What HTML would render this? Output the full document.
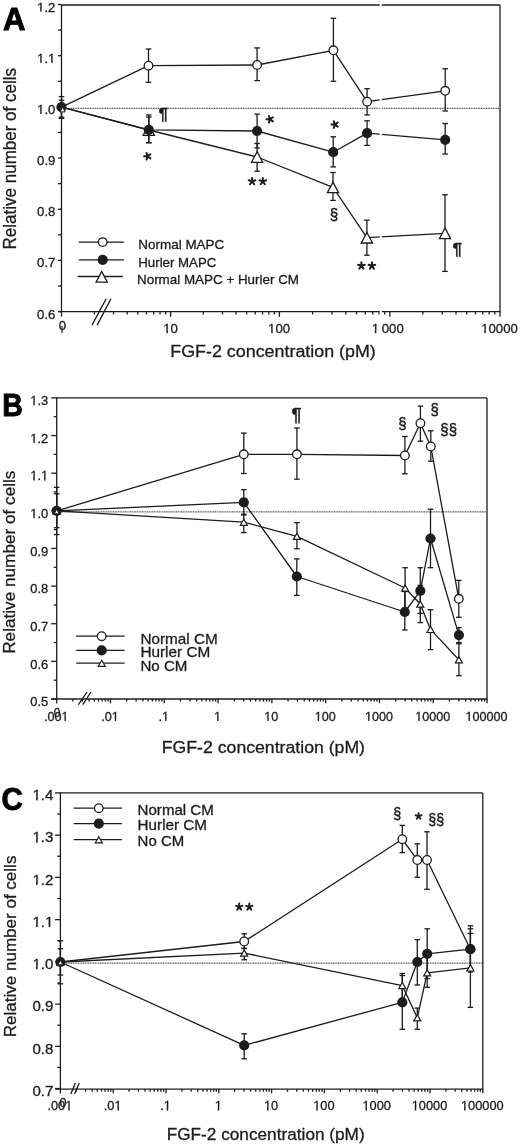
<!DOCTYPE html>
<html><head><meta charset="utf-8"><style>
html,body{margin:0;padding:0;background:#fff;}
svg{display:block;will-change:transform;font-family:"Liberation Sans",sans-serif;fill:#1c1c1c;}
text{fill:#1c1c1c;stroke:#1c1c1c;stroke-width:0.3px;}
</style></head><body>
<svg width="520" height="1146" viewBox="0 0 520 1146">
<line x1="61.50" y1="5.00" x2="500.00" y2="5.00" stroke="#1c1c1c" stroke-width="1.3" />
<line x1="500.00" y1="5.00" x2="500.00" y2="311.60" stroke="#1c1c1c" stroke-width="1.3" />
<line x1="61.50" y1="4.40" x2="61.50" y2="316.60" stroke="#1c1c1c" stroke-width="1.3" />
<line x1="58.00" y1="311.60" x2="500.60" y2="311.60" stroke="#1c1c1c" stroke-width="1.3" />
<line x1="58.00" y1="4.50" x2="61.50" y2="4.50" stroke="#1c1c1c" stroke-width="1.3" />
<line x1="58.00" y1="30.09" x2="61.50" y2="30.09" stroke="#1c1c1c" stroke-width="1.3" />
<line x1="58.00" y1="55.68" x2="61.50" y2="55.68" stroke="#1c1c1c" stroke-width="1.3" />
<line x1="58.00" y1="81.27" x2="61.50" y2="81.27" stroke="#1c1c1c" stroke-width="1.3" />
<line x1="58.00" y1="106.86" x2="61.50" y2="106.86" stroke="#1c1c1c" stroke-width="1.3" />
<line x1="58.00" y1="132.45" x2="61.50" y2="132.45" stroke="#1c1c1c" stroke-width="1.3" />
<line x1="58.00" y1="158.04" x2="61.50" y2="158.04" stroke="#1c1c1c" stroke-width="1.3" />
<line x1="58.00" y1="183.63" x2="61.50" y2="183.63" stroke="#1c1c1c" stroke-width="1.3" />
<line x1="58.00" y1="209.22" x2="61.50" y2="209.22" stroke="#1c1c1c" stroke-width="1.3" />
<line x1="58.00" y1="234.81" x2="61.50" y2="234.81" stroke="#1c1c1c" stroke-width="1.3" />
<line x1="58.00" y1="260.40" x2="61.50" y2="260.40" stroke="#1c1c1c" stroke-width="1.3" />
<line x1="58.00" y1="285.99" x2="61.50" y2="285.99" stroke="#1c1c1c" stroke-width="1.3" />
<line x1="58.00" y1="311.58" x2="61.50" y2="311.58" stroke="#1c1c1c" stroke-width="1.3" />
<text x="55.40" y="11.50" font-size="13.2" text-anchor="end" font-weight="normal" >1.2</text>
<rect x="37.26" y="9.21" width="7.29" height="3.99" fill="#fff"/>
<rect x="40.22" y="8.91" width="1.47" height="2.74" fill="#1c1c1c"/>
<text x="55.40" y="62.68" font-size="13.2" text-anchor="end" font-weight="normal" >1.1</text>
<rect x="37.26" y="60.39" width="7.29" height="3.99" fill="#fff"/>
<rect x="40.22" y="60.09" width="1.47" height="2.74" fill="#1c1c1c"/>
<rect x="48.26" y="60.39" width="7.29" height="3.99" fill="#fff"/>
<rect x="51.23" y="60.09" width="1.47" height="2.74" fill="#1c1c1c"/>
<text x="55.40" y="113.86" font-size="13.2" text-anchor="end" font-weight="normal" >1.0</text>
<rect x="37.26" y="111.57" width="7.29" height="3.99" fill="#fff"/>
<rect x="40.22" y="111.27" width="1.47" height="2.74" fill="#1c1c1c"/>
<text x="55.40" y="165.04" font-size="13.2" text-anchor="end" font-weight="normal" >0.9</text>
<text x="55.40" y="216.22" font-size="13.2" text-anchor="end" font-weight="normal" >0.8</text>
<text x="55.40" y="267.40" font-size="13.2" text-anchor="end" font-weight="normal" >0.7</text>
<text x="55.40" y="318.58" font-size="13.2" text-anchor="end" font-weight="normal" >0.6</text>
<line x1="94.34" y1="311.60" x2="94.34" y2="314.40" stroke="#1c1c1c" stroke-width="1.3" />
<line x1="113.55" y1="311.60" x2="113.55" y2="314.40" stroke="#1c1c1c" stroke-width="1.3" />
<line x1="127.18" y1="311.60" x2="127.18" y2="314.40" stroke="#1c1c1c" stroke-width="1.3" />
<line x1="137.76" y1="311.60" x2="137.76" y2="314.40" stroke="#1c1c1c" stroke-width="1.3" />
<line x1="146.40" y1="311.60" x2="146.40" y2="314.40" stroke="#1c1c1c" stroke-width="1.3" />
<line x1="153.70" y1="311.60" x2="153.70" y2="314.40" stroke="#1c1c1c" stroke-width="1.3" />
<line x1="160.03" y1="311.60" x2="160.03" y2="314.40" stroke="#1c1c1c" stroke-width="1.3" />
<line x1="165.61" y1="311.60" x2="165.61" y2="314.40" stroke="#1c1c1c" stroke-width="1.3" />
<line x1="170.60" y1="311.60" x2="170.60" y2="316.80" stroke="#1c1c1c" stroke-width="1.3" />
<line x1="203.35" y1="311.60" x2="203.35" y2="314.40" stroke="#1c1c1c" stroke-width="1.3" />
<line x1="222.51" y1="311.60" x2="222.51" y2="314.40" stroke="#1c1c1c" stroke-width="1.3" />
<line x1="236.10" y1="311.60" x2="236.10" y2="314.40" stroke="#1c1c1c" stroke-width="1.3" />
<line x1="246.65" y1="311.60" x2="246.65" y2="314.40" stroke="#1c1c1c" stroke-width="1.3" />
<line x1="255.26" y1="311.60" x2="255.26" y2="314.40" stroke="#1c1c1c" stroke-width="1.3" />
<line x1="262.55" y1="311.60" x2="262.55" y2="314.40" stroke="#1c1c1c" stroke-width="1.3" />
<line x1="268.86" y1="311.60" x2="268.86" y2="314.40" stroke="#1c1c1c" stroke-width="1.3" />
<line x1="274.42" y1="311.60" x2="274.42" y2="314.40" stroke="#1c1c1c" stroke-width="1.3" />
<line x1="279.40" y1="311.60" x2="279.40" y2="316.80" stroke="#1c1c1c" stroke-width="1.3" />
<line x1="312.63" y1="311.60" x2="312.63" y2="314.40" stroke="#1c1c1c" stroke-width="1.3" />
<line x1="332.07" y1="311.60" x2="332.07" y2="314.40" stroke="#1c1c1c" stroke-width="1.3" />
<line x1="345.87" y1="311.60" x2="345.87" y2="314.40" stroke="#1c1c1c" stroke-width="1.3" />
<line x1="356.57" y1="311.60" x2="356.57" y2="314.40" stroke="#1c1c1c" stroke-width="1.3" />
<line x1="365.31" y1="311.60" x2="365.31" y2="314.40" stroke="#1c1c1c" stroke-width="1.3" />
<line x1="372.70" y1="311.60" x2="372.70" y2="314.40" stroke="#1c1c1c" stroke-width="1.3" />
<line x1="379.10" y1="311.60" x2="379.10" y2="314.40" stroke="#1c1c1c" stroke-width="1.3" />
<line x1="384.75" y1="311.60" x2="384.75" y2="314.40" stroke="#1c1c1c" stroke-width="1.3" />
<line x1="389.80" y1="311.60" x2="389.80" y2="316.80" stroke="#1c1c1c" stroke-width="1.3" />
<line x1="422.91" y1="311.60" x2="422.91" y2="314.40" stroke="#1c1c1c" stroke-width="1.3" />
<line x1="442.28" y1="311.60" x2="442.28" y2="314.40" stroke="#1c1c1c" stroke-width="1.3" />
<line x1="456.03" y1="311.60" x2="456.03" y2="314.40" stroke="#1c1c1c" stroke-width="1.3" />
<line x1="466.69" y1="311.60" x2="466.69" y2="314.40" stroke="#1c1c1c" stroke-width="1.3" />
<line x1="475.40" y1="311.60" x2="475.40" y2="314.40" stroke="#1c1c1c" stroke-width="1.3" />
<line x1="482.76" y1="311.60" x2="482.76" y2="314.40" stroke="#1c1c1c" stroke-width="1.3" />
<line x1="489.14" y1="311.60" x2="489.14" y2="314.40" stroke="#1c1c1c" stroke-width="1.3" />
<line x1="494.77" y1="311.60" x2="494.77" y2="314.40" stroke="#1c1c1c" stroke-width="1.3" />
<line x1="500.00" y1="311.60" x2="500.00" y2="316.80" stroke="#1c1c1c" stroke-width="1.3" />
<line x1="92.00" y1="325.10" x2="106.20" y2="298.80" stroke="#1c1c1c" stroke-width="1.3" />
<line x1="97.10" y1="325.10" x2="111.00" y2="298.80" stroke="#1c1c1c" stroke-width="1.3" />
<text x="62.30" y="330.20" font-size="13.2" text-anchor="middle" font-weight="normal" >0</text>
<line x1="62.00" y1="326.00" x2="62.00" y2="333.30" stroke="#1c1c1c" stroke-width="1.1" />
<text x="170.60" y="333.00" font-size="13.2" text-anchor="middle" font-weight="normal" >10</text>
<rect x="163.46" y="330.71" width="7.29" height="3.99" fill="#fff"/>
<rect x="166.43" y="330.41" width="1.47" height="2.74" fill="#1c1c1c"/>
<text x="279.10" y="333.00" font-size="13.2" text-anchor="middle" font-weight="normal" >100</text>
<rect x="268.29" y="330.71" width="7.29" height="3.99" fill="#fff"/>
<rect x="271.26" y="330.41" width="1.47" height="2.74" fill="#1c1c1c"/>
<text x="375.30" y="333.00" font-size="13.2" text-anchor="middle" font-weight="normal" >1</text>
<rect x="371.83" y="330.71" width="7.29" height="3.99" fill="#fff"/>
<rect x="374.80" y="330.41" width="1.47" height="2.74" fill="#1c1c1c"/>
<text x="392.80" y="333.00" font-size="13.2" text-anchor="middle" font-weight="normal" >000</text>
<text x="499.50" y="333.00" font-size="13.2" text-anchor="middle" font-weight="normal" >10000</text>
<rect x="481.35" y="330.71" width="7.29" height="3.99" fill="#fff"/>
<rect x="484.32" y="330.41" width="1.47" height="2.74" fill="#1c1c1c"/>
<text x="170.30" y="356.90" font-size="17.3" text-anchor="start" font-weight="normal" textLength="205.5" lengthAdjust="spacingAndGlyphs" >FGF-2 concentration (pM)</text>
<text x="0.00" y="0.00" font-size="18" text-anchor="middle" font-weight="normal" textLength="181.5" lengthAdjust="spacingAndGlyphs" transform="translate(16.3,158.7) rotate(-90)">Relative number of cells</text>
<g transform="translate(14.15,29.65) scale(1.02,1)"><text x="0" y="0" font-size="30.5" font-weight="bold" text-anchor="middle" style="fill:#000;stroke:#000;stroke-width:0.9px">A</text></g>
<line x1="69.5" y1="108.3" x2="499" y2="108.3" stroke="#2a2a2a" stroke-width="1" stroke-dasharray="1.1 0.6"/>
<polyline points="61.50,107.20 148.50,65.70 257.10,65.00 333.40,50.30 367.10,101.70 445.20,90.80" fill="none" stroke="#1c1c1c" stroke-width="1.3" stroke-linejoin="round"/>
<polyline points="61.50,107.20 148.80,129.80 257.10,131.00 333.20,152.20 367.10,133.10 445.20,139.80" fill="none" stroke="#1c1c1c" stroke-width="1.3" stroke-linejoin="round"/>
<polyline points="61.50,107.20 148.80,130.00 257.10,157.00 333.00,187.40 366.90,237.70 445.00,233.30" fill="none" stroke="#1c1c1c" stroke-width="1.3" stroke-linejoin="round"/>
<line x1="148.50" y1="49.00" x2="148.50" y2="82.30" stroke="#1c1c1c" stroke-width="1.3" />
<line x1="145.70" y1="49.00" x2="151.30" y2="49.00" stroke="#1c1c1c" stroke-width="1.3" />
<line x1="145.70" y1="82.30" x2="151.30" y2="82.30" stroke="#1c1c1c" stroke-width="1.3" />
<line x1="257.10" y1="47.90" x2="257.10" y2="80.60" stroke="#1c1c1c" stroke-width="1.3" />
<line x1="254.30" y1="47.90" x2="259.90" y2="47.90" stroke="#1c1c1c" stroke-width="1.3" />
<line x1="254.30" y1="80.60" x2="259.90" y2="80.60" stroke="#1c1c1c" stroke-width="1.3" />
<line x1="333.40" y1="18.30" x2="333.40" y2="81.30" stroke="#1c1c1c" stroke-width="1.3" />
<line x1="330.60" y1="18.30" x2="336.20" y2="18.30" stroke="#1c1c1c" stroke-width="1.3" />
<line x1="330.60" y1="81.30" x2="336.20" y2="81.30" stroke="#1c1c1c" stroke-width="1.3" />
<line x1="367.10" y1="88.70" x2="367.10" y2="115.00" stroke="#1c1c1c" stroke-width="1.3" />
<line x1="364.30" y1="88.70" x2="369.90" y2="88.70" stroke="#1c1c1c" stroke-width="1.3" />
<line x1="364.30" y1="115.00" x2="369.90" y2="115.00" stroke="#1c1c1c" stroke-width="1.3" />
<line x1="445.20" y1="68.70" x2="445.20" y2="111.00" stroke="#1c1c1c" stroke-width="1.3" />
<line x1="442.40" y1="68.70" x2="448.00" y2="68.70" stroke="#1c1c1c" stroke-width="1.3" />
<line x1="442.40" y1="111.00" x2="448.00" y2="111.00" stroke="#1c1c1c" stroke-width="1.3" />
<line x1="148.80" y1="115.00" x2="148.80" y2="142.70" stroke="#1c1c1c" stroke-width="1.3" />
<line x1="146.00" y1="115.00" x2="151.60" y2="115.00" stroke="#1c1c1c" stroke-width="1.3" />
<line x1="146.00" y1="142.70" x2="151.60" y2="142.70" stroke="#1c1c1c" stroke-width="1.3" />
<line x1="257.10" y1="114.10" x2="257.10" y2="147.90" stroke="#1c1c1c" stroke-width="1.3" />
<line x1="254.30" y1="114.10" x2="259.90" y2="114.10" stroke="#1c1c1c" stroke-width="1.3" />
<line x1="254.30" y1="147.90" x2="259.90" y2="147.90" stroke="#1c1c1c" stroke-width="1.3" />
<line x1="333.20" y1="136.80" x2="333.20" y2="166.90" stroke="#1c1c1c" stroke-width="1.3" />
<line x1="330.40" y1="136.80" x2="336.00" y2="136.80" stroke="#1c1c1c" stroke-width="1.3" />
<line x1="330.40" y1="166.90" x2="336.00" y2="166.90" stroke="#1c1c1c" stroke-width="1.3" />
<line x1="367.10" y1="120.80" x2="367.10" y2="145.40" stroke="#1c1c1c" stroke-width="1.3" />
<line x1="364.30" y1="120.80" x2="369.90" y2="120.80" stroke="#1c1c1c" stroke-width="1.3" />
<line x1="364.30" y1="145.40" x2="369.90" y2="145.40" stroke="#1c1c1c" stroke-width="1.3" />
<line x1="445.20" y1="123.50" x2="445.20" y2="154.00" stroke="#1c1c1c" stroke-width="1.3" />
<line x1="442.40" y1="123.50" x2="448.00" y2="123.50" stroke="#1c1c1c" stroke-width="1.3" />
<line x1="442.40" y1="154.00" x2="448.00" y2="154.00" stroke="#1c1c1c" stroke-width="1.3" />
<line x1="148.80" y1="117.00" x2="148.80" y2="142.70" stroke="#1c1c1c" stroke-width="1.3" />
<line x1="146.00" y1="117.00" x2="151.60" y2="117.00" stroke="#1c1c1c" stroke-width="1.3" />
<line x1="146.00" y1="142.70" x2="151.60" y2="142.70" stroke="#1c1c1c" stroke-width="1.3" />
<line x1="257.10" y1="143.50" x2="257.10" y2="171.20" stroke="#1c1c1c" stroke-width="1.3" />
<line x1="254.30" y1="143.50" x2="259.90" y2="143.50" stroke="#1c1c1c" stroke-width="1.3" />
<line x1="254.30" y1="171.20" x2="259.90" y2="171.20" stroke="#1c1c1c" stroke-width="1.3" />
<line x1="333.00" y1="172.50" x2="333.00" y2="200.40" stroke="#1c1c1c" stroke-width="1.3" />
<line x1="330.20" y1="172.50" x2="335.80" y2="172.50" stroke="#1c1c1c" stroke-width="1.3" />
<line x1="330.20" y1="200.40" x2="335.80" y2="200.40" stroke="#1c1c1c" stroke-width="1.3" />
<line x1="366.90" y1="220.20" x2="366.90" y2="255.20" stroke="#1c1c1c" stroke-width="1.3" />
<line x1="364.10" y1="220.20" x2="369.70" y2="220.20" stroke="#1c1c1c" stroke-width="1.3" />
<line x1="364.10" y1="255.20" x2="369.70" y2="255.20" stroke="#1c1c1c" stroke-width="1.3" />
<line x1="445.00" y1="194.80" x2="445.00" y2="271.40" stroke="#1c1c1c" stroke-width="1.3" />
<line x1="442.20" y1="194.80" x2="447.80" y2="194.80" stroke="#1c1c1c" stroke-width="1.3" />
<line x1="442.20" y1="271.40" x2="447.80" y2="271.40" stroke="#1c1c1c" stroke-width="1.3" />
<line x1="61.50" y1="96.60" x2="61.50" y2="118.40" stroke="#1c1c1c" stroke-width="1.3" />
<line x1="58.70" y1="96.60" x2="64.30" y2="96.60" stroke="#1c1c1c" stroke-width="1.3" />
<line x1="58.70" y1="118.40" x2="64.30" y2="118.40" stroke="#1c1c1c" stroke-width="1.3" />
<line x1="61.50" y1="100.20" x2="61.50" y2="117.20" stroke="#1c1c1c" stroke-width="1.3" />
<line x1="58.70" y1="100.20" x2="64.30" y2="100.20" stroke="#1c1c1c" stroke-width="1.3" />
<line x1="58.70" y1="117.20" x2="64.30" y2="117.20" stroke="#1c1c1c" stroke-width="1.3" />
<polygon points="148.80,124.70 143.20,135.30 154.40,135.30" fill="#fff" stroke="#1c1c1c" stroke-width="1.3" stroke-linejoin="miter"/>
<polygon points="257.10,151.70 251.50,162.30 262.70,162.30" fill="#fff" stroke="#1c1c1c" stroke-width="1.3" stroke-linejoin="miter"/>
<polygon points="333.00,182.10 327.40,192.70 338.60,192.70" fill="#fff" stroke="#1c1c1c" stroke-width="1.3" stroke-linejoin="miter"/>
<polygon points="366.90,232.40 361.30,243.00 372.50,243.00" fill="#fff" stroke="#1c1c1c" stroke-width="1.3" stroke-linejoin="miter"/>
<polygon points="445.00,228.00 439.40,238.60 450.60,238.60" fill="#fff" stroke="#1c1c1c" stroke-width="1.3" stroke-linejoin="miter"/>
<circle cx="61.50" cy="107.20" r="5.1" fill="#1c1c1c"/>
<circle cx="148.80" cy="129.80" r="5.1" fill="#1c1c1c"/>
<circle cx="257.10" cy="131.00" r="5.1" fill="#1c1c1c"/>
<circle cx="333.20" cy="152.20" r="5.1" fill="#1c1c1c"/>
<circle cx="367.10" cy="133.10" r="5.1" fill="#1c1c1c"/>
<circle cx="445.20" cy="139.80" r="5.1" fill="#1c1c1c"/>
<polygon points="62.60,107.30 60.00,111.90 65.20,111.90" fill="#fff" stroke="#1c1c1c" stroke-width="1.0" stroke-linejoin="miter"/>
<circle cx="148.50" cy="65.70" r="4.3" fill="#fff" stroke="#1c1c1c" stroke-width="1.3"/>
<circle cx="257.10" cy="65.00" r="4.3" fill="#fff" stroke="#1c1c1c" stroke-width="1.3"/>
<circle cx="333.40" cy="50.30" r="4.3" fill="#fff" stroke="#1c1c1c" stroke-width="1.3"/>
<circle cx="367.10" cy="101.70" r="4.3" fill="#fff" stroke="#1c1c1c" stroke-width="1.3"/>
<circle cx="445.20" cy="90.80" r="4.3" fill="#fff" stroke="#1c1c1c" stroke-width="1.3"/>
<text x="163.20" y="119.80" font-size="17" text-anchor="middle" font-weight="bold" >¶</text>
<path d="M147.60,156.30L144.10,156.30M147.60,156.30L146.52,152.97M147.60,156.30L150.43,154.24M147.60,156.30L150.43,158.36M147.60,156.30L146.52,159.63" stroke="#1c1c1c" stroke-width="2.0" stroke-linecap="round" fill="none"/>
<path d="M270.00,119.30L266.50,119.30M270.00,119.30L268.92,115.97M270.00,119.30L272.83,117.24M270.00,119.30L272.83,121.36M270.00,119.30L268.92,122.63" stroke="#1c1c1c" stroke-width="2.0" stroke-linecap="round" fill="none"/>
<path d="M252.10,181.40L252.10,177.90M252.10,181.40L255.43,180.32M252.10,181.40L254.16,184.23M252.10,181.40L250.04,184.23M252.10,181.40L248.77,180.32" stroke="#1c1c1c" stroke-width="2.0" stroke-linecap="round" fill="none"/>
<path d="M262.80,181.40L262.80,177.90M262.80,181.40L266.13,180.32M262.80,181.40L264.86,184.23M262.80,181.40L260.74,184.23M262.80,181.40L259.47,180.32" stroke="#1c1c1c" stroke-width="2.0" stroke-linecap="round" fill="none"/>
<path d="M334.90,124.60L331.40,124.60M334.90,124.60L333.82,121.27M334.90,124.60L337.73,122.54M334.90,124.60L337.73,126.66M334.90,124.60L333.82,127.93" stroke="#1c1c1c" stroke-width="2.0" stroke-linecap="round" fill="none"/>
<g transform="translate(334.00,220.00) scale(0.8786,1)"><text x="0" y="0" font-size="17.32" text-anchor="middle" style="stroke-width:0.45px">§</text></g>
<path d="M361.40,265.80L361.40,262.30M361.40,265.80L364.73,264.72M361.40,265.80L363.46,268.63M361.40,265.80L359.34,268.63M361.40,265.80L358.07,264.72" stroke="#1c1c1c" stroke-width="2.0" stroke-linecap="round" fill="none"/>
<path d="M371.90,265.80L371.90,262.30M371.90,265.80L375.23,264.72M371.90,265.80L373.96,268.63M371.90,265.80L369.84,268.63M371.90,265.80L368.57,264.72" stroke="#1c1c1c" stroke-width="2.0" stroke-linecap="round" fill="none"/>
<text x="457.20" y="255.20" font-size="17" text-anchor="middle" font-weight="bold" >¶</text>
<line x1="78.70" y1="242.10" x2="123.80" y2="242.10" stroke="#1c1c1c" stroke-width="1.3" />
<circle cx="102.70" cy="242.10" r="4.3" fill="#fff" stroke="#1c1c1c" stroke-width="1.3"/>
<line x1="78.70" y1="259.80" x2="123.80" y2="259.80" stroke="#1c1c1c" stroke-width="1.3" />
<circle cx="102.70" cy="259.80" r="5.1" fill="#1c1c1c"/>
<line x1="77.70" y1="276.50" x2="122.90" y2="276.50" stroke="#1c1c1c" stroke-width="1.3" />
<polygon points="101.70,271.50 96.10,282.10 107.30,282.10" fill="#fff" stroke="#1c1c1c" stroke-width="1.3" stroke-linejoin="miter"/>
<text x="138.30" y="249.00" font-size="13.4" text-anchor="start" font-weight="normal" textLength="86" lengthAdjust="spacingAndGlyphs" >Normal MAPC</text>
<text x="138.30" y="267.20" font-size="13.4" text-anchor="start" font-weight="normal" textLength="78" lengthAdjust="spacingAndGlyphs" >Hurler MAPC</text>
<text x="137.00" y="284.20" font-size="13.4" text-anchor="start" font-weight="normal" textLength="162" lengthAdjust="spacingAndGlyphs" >Normal MAPC + Hurler CM</text>
<rect x="379.7" y="0" width="2.1" height="340" fill="#fff"/>
<line x1="56.70" y1="397.90" x2="487.00" y2="397.90" stroke="#1c1c1c" stroke-width="1.3" />
<line x1="487.00" y1="397.90" x2="487.00" y2="699.00" stroke="#1c1c1c" stroke-width="1.3" />
<line x1="56.70" y1="397.30" x2="56.70" y2="703.50" stroke="#1c1c1c" stroke-width="1.3" />
<line x1="51.20" y1="699.00" x2="487.60" y2="699.00" stroke="#1c1c1c" stroke-width="1.3" />
<line x1="51.20" y1="397.90" x2="56.70" y2="397.90" stroke="#1c1c1c" stroke-width="1.3" />
<line x1="53.70" y1="416.72" x2="56.70" y2="416.72" stroke="#1c1c1c" stroke-width="1.3" />
<line x1="51.20" y1="435.54" x2="56.70" y2="435.54" stroke="#1c1c1c" stroke-width="1.3" />
<line x1="53.70" y1="454.36" x2="56.70" y2="454.36" stroke="#1c1c1c" stroke-width="1.3" />
<line x1="51.20" y1="473.18" x2="56.70" y2="473.18" stroke="#1c1c1c" stroke-width="1.3" />
<line x1="53.70" y1="492.00" x2="56.70" y2="492.00" stroke="#1c1c1c" stroke-width="1.3" />
<line x1="51.20" y1="510.82" x2="56.70" y2="510.82" stroke="#1c1c1c" stroke-width="1.3" />
<line x1="53.70" y1="529.64" x2="56.70" y2="529.64" stroke="#1c1c1c" stroke-width="1.3" />
<line x1="51.20" y1="548.46" x2="56.70" y2="548.46" stroke="#1c1c1c" stroke-width="1.3" />
<line x1="53.70" y1="567.28" x2="56.70" y2="567.28" stroke="#1c1c1c" stroke-width="1.3" />
<line x1="51.20" y1="586.10" x2="56.70" y2="586.10" stroke="#1c1c1c" stroke-width="1.3" />
<line x1="53.70" y1="604.92" x2="56.70" y2="604.92" stroke="#1c1c1c" stroke-width="1.3" />
<line x1="51.20" y1="623.74" x2="56.70" y2="623.74" stroke="#1c1c1c" stroke-width="1.3" />
<line x1="53.70" y1="642.56" x2="56.70" y2="642.56" stroke="#1c1c1c" stroke-width="1.3" />
<line x1="51.20" y1="661.38" x2="56.70" y2="661.38" stroke="#1c1c1c" stroke-width="1.3" />
<line x1="53.70" y1="680.20" x2="56.70" y2="680.20" stroke="#1c1c1c" stroke-width="1.3" />
<line x1="51.20" y1="699.02" x2="56.70" y2="699.02" stroke="#1c1c1c" stroke-width="1.3" />
<text x="48.20" y="405.10" font-size="12.8" text-anchor="end" font-weight="normal" textLength="18.0" lengthAdjust="spacingAndGlyphs" >1.3</text>
<rect x="30.39" y="402.84" width="7.18" height="3.96" fill="#fff"/>
<rect x="33.31" y="402.54" width="1.44" height="2.71" fill="#1c1c1c"/>
<text x="48.20" y="442.74" font-size="12.8" text-anchor="end" font-weight="normal" textLength="18.0" lengthAdjust="spacingAndGlyphs" >1.2</text>
<rect x="30.39" y="440.48" width="7.18" height="3.96" fill="#fff"/>
<rect x="33.31" y="440.18" width="1.44" height="2.71" fill="#1c1c1c"/>
<text x="48.20" y="480.38" font-size="12.8" text-anchor="end" font-weight="normal" textLength="18.0" lengthAdjust="spacingAndGlyphs" >1.1</text>
<rect x="30.39" y="478.12" width="7.18" height="3.96" fill="#fff"/>
<rect x="33.31" y="477.82" width="1.44" height="2.71" fill="#1c1c1c"/>
<rect x="41.19" y="478.12" width="7.18" height="3.96" fill="#fff"/>
<rect x="44.10" y="477.82" width="1.44" height="2.71" fill="#1c1c1c"/>
<text x="48.20" y="518.02" font-size="12.8" text-anchor="end" font-weight="normal" textLength="18.0" lengthAdjust="spacingAndGlyphs" >1.0</text>
<rect x="30.39" y="515.76" width="7.18" height="3.96" fill="#fff"/>
<rect x="33.31" y="515.46" width="1.44" height="2.71" fill="#1c1c1c"/>
<text x="48.20" y="555.66" font-size="12.8" text-anchor="end" font-weight="normal" textLength="18.0" lengthAdjust="spacingAndGlyphs" >0.9</text>
<text x="48.20" y="593.30" font-size="12.8" text-anchor="end" font-weight="normal" textLength="18.0" lengthAdjust="spacingAndGlyphs" >0.8</text>
<text x="48.20" y="630.94" font-size="12.8" text-anchor="end" font-weight="normal" textLength="18.0" lengthAdjust="spacingAndGlyphs" >0.7</text>
<text x="48.20" y="668.58" font-size="12.8" text-anchor="end" font-weight="normal" textLength="18.0" lengthAdjust="spacingAndGlyphs" >0.6</text>
<text x="48.20" y="706.22" font-size="12.8" text-anchor="end" font-weight="normal" textLength="18.0" lengthAdjust="spacingAndGlyphs" >0.5</text>
<line x1="72.89" y1="699.00" x2="72.89" y2="701.60" stroke="#1c1c1c" stroke-width="1.3" />
<line x1="82.36" y1="699.00" x2="82.36" y2="701.60" stroke="#1c1c1c" stroke-width="1.3" />
<line x1="89.08" y1="699.00" x2="89.08" y2="701.60" stroke="#1c1c1c" stroke-width="1.3" />
<line x1="94.30" y1="699.00" x2="94.30" y2="701.60" stroke="#1c1c1c" stroke-width="1.3" />
<line x1="98.56" y1="699.00" x2="98.56" y2="701.60" stroke="#1c1c1c" stroke-width="1.3" />
<line x1="102.16" y1="699.00" x2="102.16" y2="701.60" stroke="#1c1c1c" stroke-width="1.3" />
<line x1="105.28" y1="699.00" x2="105.28" y2="701.60" stroke="#1c1c1c" stroke-width="1.3" />
<line x1="108.03" y1="699.00" x2="108.03" y2="701.60" stroke="#1c1c1c" stroke-width="1.3" />
<line x1="110.49" y1="699.00" x2="110.49" y2="703.20" stroke="#1c1c1c" stroke-width="1.3" />
<line x1="126.68" y1="699.00" x2="126.68" y2="701.60" stroke="#1c1c1c" stroke-width="1.3" />
<line x1="136.15" y1="699.00" x2="136.15" y2="701.60" stroke="#1c1c1c" stroke-width="1.3" />
<line x1="142.87" y1="699.00" x2="142.87" y2="701.60" stroke="#1c1c1c" stroke-width="1.3" />
<line x1="148.09" y1="699.00" x2="148.09" y2="701.60" stroke="#1c1c1c" stroke-width="1.3" />
<line x1="152.35" y1="699.00" x2="152.35" y2="701.60" stroke="#1c1c1c" stroke-width="1.3" />
<line x1="155.95" y1="699.00" x2="155.95" y2="701.60" stroke="#1c1c1c" stroke-width="1.3" />
<line x1="159.07" y1="699.00" x2="159.07" y2="701.60" stroke="#1c1c1c" stroke-width="1.3" />
<line x1="161.82" y1="699.00" x2="161.82" y2="701.60" stroke="#1c1c1c" stroke-width="1.3" />
<line x1="164.28" y1="699.00" x2="164.28" y2="703.20" stroke="#1c1c1c" stroke-width="1.3" />
<line x1="180.47" y1="699.00" x2="180.47" y2="701.60" stroke="#1c1c1c" stroke-width="1.3" />
<line x1="189.94" y1="699.00" x2="189.94" y2="701.60" stroke="#1c1c1c" stroke-width="1.3" />
<line x1="196.66" y1="699.00" x2="196.66" y2="701.60" stroke="#1c1c1c" stroke-width="1.3" />
<line x1="201.88" y1="699.00" x2="201.88" y2="701.60" stroke="#1c1c1c" stroke-width="1.3" />
<line x1="206.14" y1="699.00" x2="206.14" y2="701.60" stroke="#1c1c1c" stroke-width="1.3" />
<line x1="209.74" y1="699.00" x2="209.74" y2="701.60" stroke="#1c1c1c" stroke-width="1.3" />
<line x1="212.86" y1="699.00" x2="212.86" y2="701.60" stroke="#1c1c1c" stroke-width="1.3" />
<line x1="215.61" y1="699.00" x2="215.61" y2="701.60" stroke="#1c1c1c" stroke-width="1.3" />
<line x1="218.07" y1="699.00" x2="218.07" y2="703.20" stroke="#1c1c1c" stroke-width="1.3" />
<line x1="234.26" y1="699.00" x2="234.26" y2="701.60" stroke="#1c1c1c" stroke-width="1.3" />
<line x1="243.73" y1="699.00" x2="243.73" y2="701.60" stroke="#1c1c1c" stroke-width="1.3" />
<line x1="250.45" y1="699.00" x2="250.45" y2="701.60" stroke="#1c1c1c" stroke-width="1.3" />
<line x1="255.67" y1="699.00" x2="255.67" y2="701.60" stroke="#1c1c1c" stroke-width="1.3" />
<line x1="259.93" y1="699.00" x2="259.93" y2="701.60" stroke="#1c1c1c" stroke-width="1.3" />
<line x1="263.53" y1="699.00" x2="263.53" y2="701.60" stroke="#1c1c1c" stroke-width="1.3" />
<line x1="266.65" y1="699.00" x2="266.65" y2="701.60" stroke="#1c1c1c" stroke-width="1.3" />
<line x1="269.40" y1="699.00" x2="269.40" y2="701.60" stroke="#1c1c1c" stroke-width="1.3" />
<line x1="271.86" y1="699.00" x2="271.86" y2="703.20" stroke="#1c1c1c" stroke-width="1.3" />
<line x1="288.05" y1="699.00" x2="288.05" y2="701.60" stroke="#1c1c1c" stroke-width="1.3" />
<line x1="297.52" y1="699.00" x2="297.52" y2="701.60" stroke="#1c1c1c" stroke-width="1.3" />
<line x1="304.24" y1="699.00" x2="304.24" y2="701.60" stroke="#1c1c1c" stroke-width="1.3" />
<line x1="309.46" y1="699.00" x2="309.46" y2="701.60" stroke="#1c1c1c" stroke-width="1.3" />
<line x1="313.72" y1="699.00" x2="313.72" y2="701.60" stroke="#1c1c1c" stroke-width="1.3" />
<line x1="317.32" y1="699.00" x2="317.32" y2="701.60" stroke="#1c1c1c" stroke-width="1.3" />
<line x1="320.44" y1="699.00" x2="320.44" y2="701.60" stroke="#1c1c1c" stroke-width="1.3" />
<line x1="323.19" y1="699.00" x2="323.19" y2="701.60" stroke="#1c1c1c" stroke-width="1.3" />
<line x1="325.65" y1="699.00" x2="325.65" y2="703.20" stroke="#1c1c1c" stroke-width="1.3" />
<line x1="341.84" y1="699.00" x2="341.84" y2="701.60" stroke="#1c1c1c" stroke-width="1.3" />
<line x1="351.31" y1="699.00" x2="351.31" y2="701.60" stroke="#1c1c1c" stroke-width="1.3" />
<line x1="358.03" y1="699.00" x2="358.03" y2="701.60" stroke="#1c1c1c" stroke-width="1.3" />
<line x1="363.25" y1="699.00" x2="363.25" y2="701.60" stroke="#1c1c1c" stroke-width="1.3" />
<line x1="367.51" y1="699.00" x2="367.51" y2="701.60" stroke="#1c1c1c" stroke-width="1.3" />
<line x1="371.11" y1="699.00" x2="371.11" y2="701.60" stroke="#1c1c1c" stroke-width="1.3" />
<line x1="374.23" y1="699.00" x2="374.23" y2="701.60" stroke="#1c1c1c" stroke-width="1.3" />
<line x1="376.98" y1="699.00" x2="376.98" y2="701.60" stroke="#1c1c1c" stroke-width="1.3" />
<line x1="379.44" y1="699.00" x2="379.44" y2="703.20" stroke="#1c1c1c" stroke-width="1.3" />
<line x1="395.63" y1="699.00" x2="395.63" y2="701.60" stroke="#1c1c1c" stroke-width="1.3" />
<line x1="405.10" y1="699.00" x2="405.10" y2="701.60" stroke="#1c1c1c" stroke-width="1.3" />
<line x1="411.82" y1="699.00" x2="411.82" y2="701.60" stroke="#1c1c1c" stroke-width="1.3" />
<line x1="417.04" y1="699.00" x2="417.04" y2="701.60" stroke="#1c1c1c" stroke-width="1.3" />
<line x1="421.30" y1="699.00" x2="421.30" y2="701.60" stroke="#1c1c1c" stroke-width="1.3" />
<line x1="424.90" y1="699.00" x2="424.90" y2="701.60" stroke="#1c1c1c" stroke-width="1.3" />
<line x1="428.02" y1="699.00" x2="428.02" y2="701.60" stroke="#1c1c1c" stroke-width="1.3" />
<line x1="430.77" y1="699.00" x2="430.77" y2="701.60" stroke="#1c1c1c" stroke-width="1.3" />
<line x1="433.23" y1="699.00" x2="433.23" y2="703.20" stroke="#1c1c1c" stroke-width="1.3" />
<line x1="449.42" y1="699.00" x2="449.42" y2="701.60" stroke="#1c1c1c" stroke-width="1.3" />
<line x1="458.89" y1="699.00" x2="458.89" y2="701.60" stroke="#1c1c1c" stroke-width="1.3" />
<line x1="465.61" y1="699.00" x2="465.61" y2="701.60" stroke="#1c1c1c" stroke-width="1.3" />
<line x1="470.83" y1="699.00" x2="470.83" y2="701.60" stroke="#1c1c1c" stroke-width="1.3" />
<line x1="475.09" y1="699.00" x2="475.09" y2="701.60" stroke="#1c1c1c" stroke-width="1.3" />
<line x1="478.69" y1="699.00" x2="478.69" y2="701.60" stroke="#1c1c1c" stroke-width="1.3" />
<line x1="481.81" y1="699.00" x2="481.81" y2="701.60" stroke="#1c1c1c" stroke-width="1.3" />
<line x1="484.56" y1="699.00" x2="484.56" y2="701.60" stroke="#1c1c1c" stroke-width="1.3" />
<line x1="487.00" y1="699.00" x2="487.00" y2="703.20" stroke="#1c1c1c" stroke-width="1.3" />
<line x1="78.40" y1="704.70" x2="87.00" y2="692.20" stroke="#1c1c1c" stroke-width="1.3" />
<line x1="82.70" y1="704.70" x2="90.90" y2="692.20" stroke="#1c1c1c" stroke-width="1.3" />
<text x="56.20" y="720.80" font-size="12.6" text-anchor="middle" font-weight="normal" >.001</text>
<rect x="61.61" y="718.56" width="7.03" height="3.94" fill="#fff"/>
<rect x="64.47" y="718.26" width="1.41" height="2.69" fill="#1c1c1c"/>
<text x="109.99" y="720.80" font-size="12.6" text-anchor="middle" font-weight="normal" >.01</text>
<rect x="111.90" y="718.56" width="7.03" height="3.94" fill="#fff"/>
<rect x="114.76" y="718.26" width="1.41" height="2.69" fill="#1c1c1c"/>
<text x="163.78" y="720.80" font-size="12.6" text-anchor="middle" font-weight="normal" >.1</text>
<rect x="162.19" y="718.56" width="7.03" height="3.94" fill="#fff"/>
<rect x="165.05" y="718.26" width="1.41" height="2.69" fill="#1c1c1c"/>
<text x="217.57" y="720.80" font-size="12.6" text-anchor="middle" font-weight="normal" >1</text>
<rect x="214.23" y="718.56" width="7.03" height="3.94" fill="#fff"/>
<rect x="217.08" y="718.26" width="1.41" height="2.69" fill="#1c1c1c"/>
<text x="271.36" y="720.80" font-size="12.6" text-anchor="middle" font-weight="normal" >10</text>
<rect x="264.51" y="718.56" width="7.03" height="3.94" fill="#fff"/>
<rect x="267.37" y="718.26" width="1.41" height="2.69" fill="#1c1c1c"/>
<text x="325.15" y="720.80" font-size="12.6" text-anchor="middle" font-weight="normal" >100</text>
<rect x="314.80" y="718.56" width="7.03" height="3.94" fill="#fff"/>
<rect x="317.66" y="718.26" width="1.41" height="2.69" fill="#1c1c1c"/>
<text x="378.94" y="720.80" font-size="12.6" text-anchor="middle" font-weight="normal" >1000</text>
<rect x="365.08" y="718.56" width="7.03" height="3.94" fill="#fff"/>
<rect x="367.94" y="718.26" width="1.41" height="2.69" fill="#1c1c1c"/>
<text x="432.73" y="720.80" font-size="12.6" text-anchor="middle" font-weight="normal" >10000</text>
<rect x="415.37" y="718.56" width="7.03" height="3.94" fill="#fff"/>
<rect x="418.23" y="718.26" width="1.41" height="2.69" fill="#1c1c1c"/>
<text x="486.52" y="720.80" font-size="12.6" text-anchor="middle" font-weight="normal" >100000</text>
<rect x="465.66" y="718.56" width="7.03" height="3.94" fill="#fff"/>
<rect x="468.52" y="718.26" width="1.41" height="2.69" fill="#1c1c1c"/>
<text x="57.10" y="716.60" font-size="12" text-anchor="middle" font-weight="normal" >0</text>
<text x="161.80" y="752.50" font-size="17.2" text-anchor="start" font-weight="normal" textLength="203.2" lengthAdjust="spacingAndGlyphs" >FGF-2 concentration (pM)</text>
<text x="0.00" y="0.00" font-size="17" text-anchor="middle" font-weight="normal" textLength="183.2" lengthAdjust="spacingAndGlyphs" transform="translate(14.8,562.2) rotate(-90)">Relative number of cells</text>
<g transform="translate(12.55,416.20) scale(0.935,1)"><text x="0" y="0" font-size="30.5" font-weight="bold" text-anchor="middle" style="fill:#000;stroke:#000;stroke-width:0.9px">B</text></g>
<line x1="62" y1="511.9" x2="486" y2="511.9" stroke="#2a2a2a" stroke-width="1" stroke-dasharray="1.1 0.6"/>
<polyline points="56.70,510.90 243.80,454.30 296.90,454.30 404.90,455.50 420.40,423.20 430.80,446.50 458.80,598.80" fill="none" stroke="#1c1c1c" stroke-width="1.3" stroke-linejoin="round"/>
<polyline points="56.70,510.90 243.80,502.40 296.80,576.50 404.80,612.00 420.30,590.80 430.50,538.50 458.90,635.10" fill="none" stroke="#1c1c1c" stroke-width="1.3" stroke-linejoin="round"/>
<polyline points="56.70,510.90 243.80,522.20 296.90,536.30 405.10,588.00 420.30,604.00 430.50,629.40 458.90,659.70" fill="none" stroke="#1c1c1c" stroke-width="1.3" stroke-linejoin="round"/>
<line x1="56.70" y1="487.30" x2="56.70" y2="534.60" stroke="#1c1c1c" stroke-width="1.3" />
<line x1="53.90" y1="487.30" x2="59.50" y2="487.30" stroke="#1c1c1c" stroke-width="1.3" />
<line x1="53.90" y1="534.60" x2="59.50" y2="534.60" stroke="#1c1c1c" stroke-width="1.3" />
<line x1="56.70" y1="493.80" x2="56.70" y2="527.70" stroke="#1c1c1c" stroke-width="1.3" />
<line x1="53.90" y1="493.80" x2="59.50" y2="493.80" stroke="#1c1c1c" stroke-width="1.3" />
<line x1="53.90" y1="527.70" x2="59.50" y2="527.70" stroke="#1c1c1c" stroke-width="1.3" />
<line x1="243.80" y1="433.10" x2="243.80" y2="473.50" stroke="#1c1c1c" stroke-width="1.3" />
<line x1="241.00" y1="433.10" x2="246.60" y2="433.10" stroke="#1c1c1c" stroke-width="1.3" />
<line x1="241.00" y1="473.50" x2="246.60" y2="473.50" stroke="#1c1c1c" stroke-width="1.3" />
<line x1="296.90" y1="428.00" x2="296.90" y2="479.20" stroke="#1c1c1c" stroke-width="1.3" />
<line x1="294.10" y1="428.00" x2="299.70" y2="428.00" stroke="#1c1c1c" stroke-width="1.3" />
<line x1="294.10" y1="479.20" x2="299.70" y2="479.20" stroke="#1c1c1c" stroke-width="1.3" />
<line x1="404.90" y1="436.50" x2="404.90" y2="473.80" stroke="#1c1c1c" stroke-width="1.3" />
<line x1="402.10" y1="436.50" x2="407.70" y2="436.50" stroke="#1c1c1c" stroke-width="1.3" />
<line x1="402.10" y1="473.80" x2="407.70" y2="473.80" stroke="#1c1c1c" stroke-width="1.3" />
<line x1="420.40" y1="406.10" x2="420.40" y2="441.20" stroke="#1c1c1c" stroke-width="1.3" />
<line x1="417.60" y1="406.10" x2="423.20" y2="406.10" stroke="#1c1c1c" stroke-width="1.3" />
<line x1="417.60" y1="441.20" x2="423.20" y2="441.20" stroke="#1c1c1c" stroke-width="1.3" />
<line x1="430.80" y1="430.80" x2="430.80" y2="461.20" stroke="#1c1c1c" stroke-width="1.3" />
<line x1="428.00" y1="430.80" x2="433.60" y2="430.80" stroke="#1c1c1c" stroke-width="1.3" />
<line x1="428.00" y1="461.20" x2="433.60" y2="461.20" stroke="#1c1c1c" stroke-width="1.3" />
<line x1="458.80" y1="580.40" x2="458.80" y2="617.30" stroke="#1c1c1c" stroke-width="1.3" />
<line x1="456.00" y1="580.40" x2="461.60" y2="580.40" stroke="#1c1c1c" stroke-width="1.3" />
<line x1="456.00" y1="617.30" x2="461.60" y2="617.30" stroke="#1c1c1c" stroke-width="1.3" />
<line x1="243.80" y1="489.70" x2="243.80" y2="515.00" stroke="#1c1c1c" stroke-width="1.3" />
<line x1="241.00" y1="489.70" x2="246.60" y2="489.70" stroke="#1c1c1c" stroke-width="1.3" />
<line x1="241.00" y1="515.00" x2="246.60" y2="515.00" stroke="#1c1c1c" stroke-width="1.3" />
<line x1="296.80" y1="558.90" x2="296.80" y2="595.40" stroke="#1c1c1c" stroke-width="1.3" />
<line x1="294.00" y1="558.90" x2="299.60" y2="558.90" stroke="#1c1c1c" stroke-width="1.3" />
<line x1="294.00" y1="595.40" x2="299.60" y2="595.40" stroke="#1c1c1c" stroke-width="1.3" />
<line x1="404.80" y1="591.50" x2="404.80" y2="630.00" stroke="#1c1c1c" stroke-width="1.3" />
<line x1="402.00" y1="591.50" x2="407.60" y2="591.50" stroke="#1c1c1c" stroke-width="1.3" />
<line x1="402.00" y1="630.00" x2="407.60" y2="630.00" stroke="#1c1c1c" stroke-width="1.3" />
<line x1="420.30" y1="567.70" x2="420.30" y2="613.40" stroke="#1c1c1c" stroke-width="1.3" />
<line x1="417.50" y1="567.70" x2="423.10" y2="567.70" stroke="#1c1c1c" stroke-width="1.3" />
<line x1="417.50" y1="613.40" x2="423.10" y2="613.40" stroke="#1c1c1c" stroke-width="1.3" />
<line x1="430.50" y1="509.20" x2="430.50" y2="567.70" stroke="#1c1c1c" stroke-width="1.3" />
<line x1="427.70" y1="509.20" x2="433.30" y2="509.20" stroke="#1c1c1c" stroke-width="1.3" />
<line x1="427.70" y1="567.70" x2="433.30" y2="567.70" stroke="#1c1c1c" stroke-width="1.3" />
<line x1="458.90" y1="627.70" x2="458.90" y2="642.70" stroke="#1c1c1c" stroke-width="1.3" />
<line x1="456.10" y1="627.70" x2="461.70" y2="627.70" stroke="#1c1c1c" stroke-width="1.3" />
<line x1="456.10" y1="642.70" x2="461.70" y2="642.70" stroke="#1c1c1c" stroke-width="1.3" />
<line x1="243.80" y1="514.20" x2="243.80" y2="532.60" stroke="#1c1c1c" stroke-width="1.3" />
<line x1="241.00" y1="514.20" x2="246.60" y2="514.20" stroke="#1c1c1c" stroke-width="1.3" />
<line x1="241.00" y1="532.60" x2="246.60" y2="532.60" stroke="#1c1c1c" stroke-width="1.3" />
<line x1="296.90" y1="522.70" x2="296.90" y2="548.80" stroke="#1c1c1c" stroke-width="1.3" />
<line x1="294.10" y1="522.70" x2="299.70" y2="522.70" stroke="#1c1c1c" stroke-width="1.3" />
<line x1="294.10" y1="548.80" x2="299.70" y2="548.80" stroke="#1c1c1c" stroke-width="1.3" />
<line x1="405.10" y1="567.70" x2="405.10" y2="608.00" stroke="#1c1c1c" stroke-width="1.3" />
<line x1="402.30" y1="567.70" x2="407.90" y2="567.70" stroke="#1c1c1c" stroke-width="1.3" />
<line x1="402.30" y1="608.00" x2="407.90" y2="608.00" stroke="#1c1c1c" stroke-width="1.3" />
<line x1="420.30" y1="585.40" x2="420.30" y2="622.60" stroke="#1c1c1c" stroke-width="1.3" />
<line x1="417.50" y1="585.40" x2="423.10" y2="585.40" stroke="#1c1c1c" stroke-width="1.3" />
<line x1="417.50" y1="622.60" x2="423.10" y2="622.60" stroke="#1c1c1c" stroke-width="1.3" />
<line x1="430.50" y1="609.70" x2="430.50" y2="649.60" stroke="#1c1c1c" stroke-width="1.3" />
<line x1="427.70" y1="609.70" x2="433.30" y2="609.70" stroke="#1c1c1c" stroke-width="1.3" />
<line x1="427.70" y1="649.60" x2="433.30" y2="649.60" stroke="#1c1c1c" stroke-width="1.3" />
<line x1="458.90" y1="643.70" x2="458.90" y2="675.70" stroke="#1c1c1c" stroke-width="1.3" />
<line x1="456.10" y1="643.70" x2="461.70" y2="643.70" stroke="#1c1c1c" stroke-width="1.3" />
<line x1="456.10" y1="675.70" x2="461.70" y2="675.70" stroke="#1c1c1c" stroke-width="1.3" />
<polygon points="56.70,507.80 53.20,514.00 60.20,514.00" fill="#fff" stroke="#1c1c1c" stroke-width="1.2" stroke-linejoin="miter"/>
<polygon points="243.80,519.10 240.30,525.30 247.30,525.30" fill="#fff" stroke="#1c1c1c" stroke-width="1.2" stroke-linejoin="miter"/>
<polygon points="296.90,533.20 293.40,539.40 300.40,539.40" fill="#fff" stroke="#1c1c1c" stroke-width="1.2" stroke-linejoin="miter"/>
<polygon points="405.10,584.90 401.60,591.10 408.60,591.10" fill="#fff" stroke="#1c1c1c" stroke-width="1.2" stroke-linejoin="miter"/>
<polygon points="420.30,600.90 416.80,607.10 423.80,607.10" fill="#fff" stroke="#1c1c1c" stroke-width="1.2" stroke-linejoin="miter"/>
<polygon points="430.50,626.30 427.00,632.50 434.00,632.50" fill="#fff" stroke="#1c1c1c" stroke-width="1.2" stroke-linejoin="miter"/>
<polygon points="458.90,656.60 455.40,662.80 462.40,662.80" fill="#fff" stroke="#1c1c1c" stroke-width="1.2" stroke-linejoin="miter"/>
<circle cx="56.70" cy="510.90" r="5.1" fill="#1c1c1c"/>
<circle cx="243.80" cy="502.40" r="5.1" fill="#1c1c1c"/>
<circle cx="296.80" cy="576.50" r="5.1" fill="#1c1c1c"/>
<circle cx="404.80" cy="612.00" r="5.1" fill="#1c1c1c"/>
<circle cx="420.30" cy="590.80" r="5.1" fill="#1c1c1c"/>
<circle cx="430.50" cy="538.50" r="5.1" fill="#1c1c1c"/>
<circle cx="458.90" cy="635.10" r="5.1" fill="#1c1c1c"/>
<circle cx="243.80" cy="454.30" r="4.3" fill="#fff" stroke="#1c1c1c" stroke-width="1.3"/>
<circle cx="296.90" cy="454.30" r="4.3" fill="#fff" stroke="#1c1c1c" stroke-width="1.3"/>
<circle cx="404.90" cy="455.50" r="4.3" fill="#fff" stroke="#1c1c1c" stroke-width="1.3"/>
<circle cx="420.40" cy="423.20" r="4.3" fill="#fff" stroke="#1c1c1c" stroke-width="1.3"/>
<circle cx="430.80" cy="446.50" r="4.3" fill="#fff" stroke="#1c1c1c" stroke-width="1.3"/>
<circle cx="458.80" cy="598.80" r="4.3" fill="#fff" stroke="#1c1c1c" stroke-width="1.3"/>
<polygon points="56.70,509.25 54.20,513.75 59.20,513.75" fill="#fff" stroke="#1c1c1c" stroke-width="1.0" stroke-linejoin="miter"/>
<text x="296.60" y="421.30" font-size="18" text-anchor="middle" font-weight="bold" >¶</text>
<g transform="translate(402.40,428.60) scale(0.955,1)"><text x="0" y="0" font-size="15.75" text-anchor="middle" style="stroke-width:0.45px">§</text></g>
<g transform="translate(434.60,414.90) scale(0.955,1)"><text x="0" y="0" font-size="15.75" text-anchor="middle" style="stroke-width:0.45px">§</text></g>
<g transform="translate(448.70,434.90) scale(0.955,1)"><text x="0" y="0" font-size="15.75" text-anchor="middle" style="stroke-width:0.45px">§§</text></g>
<line x1="76.20" y1="636.20" x2="124.60" y2="636.20" stroke="#1c1c1c" stroke-width="1.3" />
<circle cx="101.70" cy="636.20" r="4.3" fill="#fff" stroke="#1c1c1c" stroke-width="1.3"/>
<line x1="76.20" y1="650.40" x2="124.60" y2="650.40" stroke="#1c1c1c" stroke-width="1.3" />
<circle cx="101.70" cy="650.40" r="5.1" fill="#1c1c1c"/>
<line x1="76.20" y1="663.10" x2="124.60" y2="663.10" stroke="#1c1c1c" stroke-width="1.3" />
<polygon points="101.70,660.30 98.20,666.30 105.20,666.30" fill="#fff" stroke="#1c1c1c" stroke-width="1.2" stroke-linejoin="miter"/>
<text x="140.40" y="643.50" font-size="14.6" text-anchor="start" font-weight="normal" textLength="77.3" lengthAdjust="spacingAndGlyphs" >Normal CM</text>
<text x="140.40" y="657.30" font-size="14.6" text-anchor="start" font-weight="normal" textLength="69.9" lengthAdjust="spacingAndGlyphs" >Hurler CM</text>
<text x="140.40" y="670.80" font-size="14.6" text-anchor="start" font-weight="normal" textLength="47" lengthAdjust="spacingAndGlyphs" >No CM</text>
<line x1="60.40" y1="792.90" x2="482.80" y2="792.90" stroke="#1c1c1c" stroke-width="1.3" />
<line x1="482.80" y1="792.90" x2="482.80" y2="1089.10" stroke="#1c1c1c" stroke-width="1.3" />
<line x1="60.40" y1="792.30" x2="60.40" y2="1093.60" stroke="#1c1c1c" stroke-width="1.3" />
<line x1="55.10" y1="1089.10" x2="483.40" y2="1089.10" stroke="#1c1c1c" stroke-width="1.3" />
<line x1="55.10" y1="792.90" x2="60.40" y2="792.90" stroke="#1c1c1c" stroke-width="1.3" />
<line x1="57.30" y1="814.02" x2="60.40" y2="814.02" stroke="#1c1c1c" stroke-width="1.3" />
<line x1="55.10" y1="835.14" x2="60.40" y2="835.14" stroke="#1c1c1c" stroke-width="1.3" />
<line x1="57.30" y1="856.26" x2="60.40" y2="856.26" stroke="#1c1c1c" stroke-width="1.3" />
<line x1="55.10" y1="877.38" x2="60.40" y2="877.38" stroke="#1c1c1c" stroke-width="1.3" />
<line x1="57.30" y1="898.50" x2="60.40" y2="898.50" stroke="#1c1c1c" stroke-width="1.3" />
<line x1="55.10" y1="919.62" x2="60.40" y2="919.62" stroke="#1c1c1c" stroke-width="1.3" />
<line x1="57.30" y1="940.74" x2="60.40" y2="940.74" stroke="#1c1c1c" stroke-width="1.3" />
<line x1="55.10" y1="961.86" x2="60.40" y2="961.86" stroke="#1c1c1c" stroke-width="1.3" />
<line x1="57.30" y1="982.98" x2="60.40" y2="982.98" stroke="#1c1c1c" stroke-width="1.3" />
<line x1="55.10" y1="1004.10" x2="60.40" y2="1004.10" stroke="#1c1c1c" stroke-width="1.3" />
<line x1="57.30" y1="1025.22" x2="60.40" y2="1025.22" stroke="#1c1c1c" stroke-width="1.3" />
<line x1="55.10" y1="1046.34" x2="60.40" y2="1046.34" stroke="#1c1c1c" stroke-width="1.3" />
<line x1="57.30" y1="1067.46" x2="60.40" y2="1067.46" stroke="#1c1c1c" stroke-width="1.3" />
<line x1="55.10" y1="1088.58" x2="60.40" y2="1088.58" stroke="#1c1c1c" stroke-width="1.3" />
<text x="53.40" y="800.20" font-size="14.4" text-anchor="end" font-weight="normal" textLength="21.0" lengthAdjust="spacingAndGlyphs" >1.4</text>
<rect x="32.75" y="797.82" width="8.11" height="4.08" fill="#fff"/>
<rect x="36.05" y="797.52" width="1.64" height="2.83" fill="#1c1c1c"/>
<text x="53.40" y="842.44" font-size="14.4" text-anchor="end" font-weight="normal" textLength="21.0" lengthAdjust="spacingAndGlyphs" >1.3</text>
<rect x="32.75" y="840.06" width="8.11" height="4.08" fill="#fff"/>
<rect x="36.05" y="839.76" width="1.64" height="2.83" fill="#1c1c1c"/>
<text x="53.40" y="884.68" font-size="14.4" text-anchor="end" font-weight="normal" textLength="21.0" lengthAdjust="spacingAndGlyphs" >1.2</text>
<rect x="32.75" y="882.30" width="8.11" height="4.08" fill="#fff"/>
<rect x="36.05" y="882.00" width="1.64" height="2.83" fill="#1c1c1c"/>
<text x="53.40" y="926.92" font-size="14.4" text-anchor="end" font-weight="normal" textLength="21.0" lengthAdjust="spacingAndGlyphs" >1.1</text>
<rect x="32.75" y="924.54" width="8.11" height="4.08" fill="#fff"/>
<rect x="36.05" y="924.24" width="1.64" height="2.83" fill="#1c1c1c"/>
<rect x="45.35" y="924.54" width="8.11" height="4.08" fill="#fff"/>
<rect x="48.65" y="924.24" width="1.64" height="2.83" fill="#1c1c1c"/>
<text x="53.40" y="969.16" font-size="14.4" text-anchor="end" font-weight="normal" textLength="21.0" lengthAdjust="spacingAndGlyphs" >1.0</text>
<rect x="32.75" y="966.78" width="8.11" height="4.08" fill="#fff"/>
<rect x="36.05" y="966.48" width="1.64" height="2.83" fill="#1c1c1c"/>
<text x="53.40" y="1011.40" font-size="14.4" text-anchor="end" font-weight="normal" textLength="21.0" lengthAdjust="spacingAndGlyphs" >0.9</text>
<text x="53.40" y="1053.64" font-size="14.4" text-anchor="end" font-weight="normal" textLength="21.0" lengthAdjust="spacingAndGlyphs" >0.8</text>
<text x="53.40" y="1095.88" font-size="14.4" text-anchor="end" font-weight="normal" textLength="21.0" lengthAdjust="spacingAndGlyphs" >0.7</text>
<line x1="76.29" y1="1089.10" x2="76.29" y2="1091.70" stroke="#1c1c1c" stroke-width="1.3" />
<line x1="85.59" y1="1089.10" x2="85.59" y2="1091.70" stroke="#1c1c1c" stroke-width="1.3" />
<line x1="92.19" y1="1089.10" x2="92.19" y2="1091.70" stroke="#1c1c1c" stroke-width="1.3" />
<line x1="97.31" y1="1089.10" x2="97.31" y2="1091.70" stroke="#1c1c1c" stroke-width="1.3" />
<line x1="101.49" y1="1089.10" x2="101.49" y2="1091.70" stroke="#1c1c1c" stroke-width="1.3" />
<line x1="105.02" y1="1089.10" x2="105.02" y2="1091.70" stroke="#1c1c1c" stroke-width="1.3" />
<line x1="108.08" y1="1089.10" x2="108.08" y2="1091.70" stroke="#1c1c1c" stroke-width="1.3" />
<line x1="110.78" y1="1089.10" x2="110.78" y2="1091.70" stroke="#1c1c1c" stroke-width="1.3" />
<line x1="113.20" y1="1089.10" x2="113.20" y2="1093.30" stroke="#1c1c1c" stroke-width="1.3" />
<line x1="129.09" y1="1089.10" x2="129.09" y2="1091.70" stroke="#1c1c1c" stroke-width="1.3" />
<line x1="138.39" y1="1089.10" x2="138.39" y2="1091.70" stroke="#1c1c1c" stroke-width="1.3" />
<line x1="144.99" y1="1089.10" x2="144.99" y2="1091.70" stroke="#1c1c1c" stroke-width="1.3" />
<line x1="150.11" y1="1089.10" x2="150.11" y2="1091.70" stroke="#1c1c1c" stroke-width="1.3" />
<line x1="154.29" y1="1089.10" x2="154.29" y2="1091.70" stroke="#1c1c1c" stroke-width="1.3" />
<line x1="157.82" y1="1089.10" x2="157.82" y2="1091.70" stroke="#1c1c1c" stroke-width="1.3" />
<line x1="160.88" y1="1089.10" x2="160.88" y2="1091.70" stroke="#1c1c1c" stroke-width="1.3" />
<line x1="163.58" y1="1089.10" x2="163.58" y2="1091.70" stroke="#1c1c1c" stroke-width="1.3" />
<line x1="166.00" y1="1089.10" x2="166.00" y2="1093.30" stroke="#1c1c1c" stroke-width="1.3" />
<line x1="181.89" y1="1089.10" x2="181.89" y2="1091.70" stroke="#1c1c1c" stroke-width="1.3" />
<line x1="191.19" y1="1089.10" x2="191.19" y2="1091.70" stroke="#1c1c1c" stroke-width="1.3" />
<line x1="197.79" y1="1089.10" x2="197.79" y2="1091.70" stroke="#1c1c1c" stroke-width="1.3" />
<line x1="202.91" y1="1089.10" x2="202.91" y2="1091.70" stroke="#1c1c1c" stroke-width="1.3" />
<line x1="207.09" y1="1089.10" x2="207.09" y2="1091.70" stroke="#1c1c1c" stroke-width="1.3" />
<line x1="210.62" y1="1089.10" x2="210.62" y2="1091.70" stroke="#1c1c1c" stroke-width="1.3" />
<line x1="213.68" y1="1089.10" x2="213.68" y2="1091.70" stroke="#1c1c1c" stroke-width="1.3" />
<line x1="216.38" y1="1089.10" x2="216.38" y2="1091.70" stroke="#1c1c1c" stroke-width="1.3" />
<line x1="218.80" y1="1089.10" x2="218.80" y2="1093.30" stroke="#1c1c1c" stroke-width="1.3" />
<line x1="234.69" y1="1089.10" x2="234.69" y2="1091.70" stroke="#1c1c1c" stroke-width="1.3" />
<line x1="243.99" y1="1089.10" x2="243.99" y2="1091.70" stroke="#1c1c1c" stroke-width="1.3" />
<line x1="250.59" y1="1089.10" x2="250.59" y2="1091.70" stroke="#1c1c1c" stroke-width="1.3" />
<line x1="255.71" y1="1089.10" x2="255.71" y2="1091.70" stroke="#1c1c1c" stroke-width="1.3" />
<line x1="259.89" y1="1089.10" x2="259.89" y2="1091.70" stroke="#1c1c1c" stroke-width="1.3" />
<line x1="263.42" y1="1089.10" x2="263.42" y2="1091.70" stroke="#1c1c1c" stroke-width="1.3" />
<line x1="266.48" y1="1089.10" x2="266.48" y2="1091.70" stroke="#1c1c1c" stroke-width="1.3" />
<line x1="269.18" y1="1089.10" x2="269.18" y2="1091.70" stroke="#1c1c1c" stroke-width="1.3" />
<line x1="271.60" y1="1089.10" x2="271.60" y2="1093.30" stroke="#1c1c1c" stroke-width="1.3" />
<line x1="287.49" y1="1089.10" x2="287.49" y2="1091.70" stroke="#1c1c1c" stroke-width="1.3" />
<line x1="296.79" y1="1089.10" x2="296.79" y2="1091.70" stroke="#1c1c1c" stroke-width="1.3" />
<line x1="303.39" y1="1089.10" x2="303.39" y2="1091.70" stroke="#1c1c1c" stroke-width="1.3" />
<line x1="308.51" y1="1089.10" x2="308.51" y2="1091.70" stroke="#1c1c1c" stroke-width="1.3" />
<line x1="312.69" y1="1089.10" x2="312.69" y2="1091.70" stroke="#1c1c1c" stroke-width="1.3" />
<line x1="316.22" y1="1089.10" x2="316.22" y2="1091.70" stroke="#1c1c1c" stroke-width="1.3" />
<line x1="319.28" y1="1089.10" x2="319.28" y2="1091.70" stroke="#1c1c1c" stroke-width="1.3" />
<line x1="321.98" y1="1089.10" x2="321.98" y2="1091.70" stroke="#1c1c1c" stroke-width="1.3" />
<line x1="324.40" y1="1089.10" x2="324.40" y2="1093.30" stroke="#1c1c1c" stroke-width="1.3" />
<line x1="340.29" y1="1089.10" x2="340.29" y2="1091.70" stroke="#1c1c1c" stroke-width="1.3" />
<line x1="349.59" y1="1089.10" x2="349.59" y2="1091.70" stroke="#1c1c1c" stroke-width="1.3" />
<line x1="356.19" y1="1089.10" x2="356.19" y2="1091.70" stroke="#1c1c1c" stroke-width="1.3" />
<line x1="361.31" y1="1089.10" x2="361.31" y2="1091.70" stroke="#1c1c1c" stroke-width="1.3" />
<line x1="365.49" y1="1089.10" x2="365.49" y2="1091.70" stroke="#1c1c1c" stroke-width="1.3" />
<line x1="369.02" y1="1089.10" x2="369.02" y2="1091.70" stroke="#1c1c1c" stroke-width="1.3" />
<line x1="372.08" y1="1089.10" x2="372.08" y2="1091.70" stroke="#1c1c1c" stroke-width="1.3" />
<line x1="374.78" y1="1089.10" x2="374.78" y2="1091.70" stroke="#1c1c1c" stroke-width="1.3" />
<line x1="377.20" y1="1089.10" x2="377.20" y2="1093.30" stroke="#1c1c1c" stroke-width="1.3" />
<line x1="393.09" y1="1089.10" x2="393.09" y2="1091.70" stroke="#1c1c1c" stroke-width="1.3" />
<line x1="402.39" y1="1089.10" x2="402.39" y2="1091.70" stroke="#1c1c1c" stroke-width="1.3" />
<line x1="408.99" y1="1089.10" x2="408.99" y2="1091.70" stroke="#1c1c1c" stroke-width="1.3" />
<line x1="414.11" y1="1089.10" x2="414.11" y2="1091.70" stroke="#1c1c1c" stroke-width="1.3" />
<line x1="418.29" y1="1089.10" x2="418.29" y2="1091.70" stroke="#1c1c1c" stroke-width="1.3" />
<line x1="421.82" y1="1089.10" x2="421.82" y2="1091.70" stroke="#1c1c1c" stroke-width="1.3" />
<line x1="424.88" y1="1089.10" x2="424.88" y2="1091.70" stroke="#1c1c1c" stroke-width="1.3" />
<line x1="427.58" y1="1089.10" x2="427.58" y2="1091.70" stroke="#1c1c1c" stroke-width="1.3" />
<line x1="430.00" y1="1089.10" x2="430.00" y2="1093.30" stroke="#1c1c1c" stroke-width="1.3" />
<line x1="445.89" y1="1089.10" x2="445.89" y2="1091.70" stroke="#1c1c1c" stroke-width="1.3" />
<line x1="455.19" y1="1089.10" x2="455.19" y2="1091.70" stroke="#1c1c1c" stroke-width="1.3" />
<line x1="461.79" y1="1089.10" x2="461.79" y2="1091.70" stroke="#1c1c1c" stroke-width="1.3" />
<line x1="466.91" y1="1089.10" x2="466.91" y2="1091.70" stroke="#1c1c1c" stroke-width="1.3" />
<line x1="471.09" y1="1089.10" x2="471.09" y2="1091.70" stroke="#1c1c1c" stroke-width="1.3" />
<line x1="474.62" y1="1089.10" x2="474.62" y2="1091.70" stroke="#1c1c1c" stroke-width="1.3" />
<line x1="477.68" y1="1089.10" x2="477.68" y2="1091.70" stroke="#1c1c1c" stroke-width="1.3" />
<line x1="480.38" y1="1089.10" x2="480.38" y2="1091.70" stroke="#1c1c1c" stroke-width="1.3" />
<line x1="482.80" y1="1089.10" x2="482.80" y2="1093.30" stroke="#1c1c1c" stroke-width="1.3" />
<line x1="70.80" y1="1094.00" x2="75.40" y2="1083.00" stroke="#1c1c1c" stroke-width="1.3" />
<line x1="74.60" y1="1094.00" x2="79.20" y2="1083.00" stroke="#1c1c1c" stroke-width="1.3" />
<text x="59.90" y="1110.40" font-size="12.8" text-anchor="middle" font-weight="normal" >.001</text>
<rect x="65.41" y="1108.14" width="7.12" height="3.96" fill="#fff"/>
<rect x="68.31" y="1107.84" width="1.43" height="2.71" fill="#1c1c1c"/>
<text x="112.70" y="1110.40" font-size="12.8" text-anchor="middle" font-weight="normal" >.01</text>
<rect x="114.65" y="1108.14" width="7.12" height="3.96" fill="#fff"/>
<rect x="117.55" y="1107.84" width="1.43" height="2.71" fill="#1c1c1c"/>
<text x="165.50" y="1110.40" font-size="12.8" text-anchor="middle" font-weight="normal" >.1</text>
<rect x="163.89" y="1108.14" width="7.12" height="3.96" fill="#fff"/>
<rect x="166.79" y="1107.84" width="1.43" height="2.71" fill="#1c1c1c"/>
<text x="218.30" y="1110.40" font-size="12.8" text-anchor="middle" font-weight="normal" >1</text>
<rect x="214.92" y="1108.14" width="7.12" height="3.96" fill="#fff"/>
<rect x="217.81" y="1107.84" width="1.43" height="2.71" fill="#1c1c1c"/>
<text x="271.10" y="1110.40" font-size="12.8" text-anchor="middle" font-weight="normal" >10</text>
<rect x="264.16" y="1108.14" width="7.12" height="3.96" fill="#fff"/>
<rect x="267.05" y="1107.84" width="1.43" height="2.71" fill="#1c1c1c"/>
<text x="323.90" y="1110.40" font-size="12.8" text-anchor="middle" font-weight="normal" >100</text>
<rect x="313.40" y="1108.14" width="7.12" height="3.96" fill="#fff"/>
<rect x="316.29" y="1107.84" width="1.43" height="2.71" fill="#1c1c1c"/>
<text x="376.70" y="1110.40" font-size="12.8" text-anchor="middle" font-weight="normal" >1000</text>
<rect x="362.64" y="1108.14" width="7.12" height="3.96" fill="#fff"/>
<rect x="365.53" y="1107.84" width="1.43" height="2.71" fill="#1c1c1c"/>
<text x="429.50" y="1110.40" font-size="12.8" text-anchor="middle" font-weight="normal" >10000</text>
<rect x="411.88" y="1108.14" width="7.12" height="3.96" fill="#fff"/>
<rect x="414.77" y="1107.84" width="1.43" height="2.71" fill="#1c1c1c"/>
<text x="482.30" y="1110.40" font-size="12.8" text-anchor="middle" font-weight="normal" >100000</text>
<rect x="461.12" y="1108.14" width="7.12" height="3.96" fill="#fff"/>
<rect x="464.01" y="1107.84" width="1.43" height="2.71" fill="#1c1c1c"/>
<text x="62.90" y="1107.30" font-size="12.6" text-anchor="middle" font-weight="normal" >0</text>
<text x="166.70" y="1139.50" font-size="17.2" text-anchor="start" font-weight="normal" textLength="198" lengthAdjust="spacingAndGlyphs" >FGF-2 concentration (pM)</text>
<text x="0.00" y="0.00" font-size="17" text-anchor="middle" font-weight="normal" textLength="181.6" lengthAdjust="spacingAndGlyphs" transform="translate(15.9,946.4) rotate(-90)">Relative number of cells</text>
<g transform="translate(12.25,810.00) scale(0.94,1)"><text x="0" y="0" font-size="31.4" font-weight="bold" text-anchor="middle" style="fill:#000;stroke:#000;stroke-width:0.9px">C</text></g>
<line x1="66" y1="963.1" x2="482" y2="963.1" stroke="#2a2a2a" stroke-width="1" stroke-dasharray="1.1 0.6"/>
<polyline points="60.40,962.00 244.20,941.50 402.30,839.20 417.30,860.00 427.00,860.00 470.40,949.30" fill="none" stroke="#1c1c1c" stroke-width="1.3" stroke-linejoin="round"/>
<polyline points="60.40,962.00 244.20,1045.40 402.30,1002.30 417.30,962.00 427.20,953.80 470.40,949.20" fill="none" stroke="#1c1c1c" stroke-width="1.3" stroke-linejoin="round"/>
<polyline points="60.40,962.00 244.20,953.10 402.30,985.60 417.30,1017.80 427.20,972.80 470.40,967.90" fill="none" stroke="#1c1c1c" stroke-width="1.3" stroke-linejoin="round"/>
<line x1="60.40" y1="940.80" x2="60.40" y2="983.80" stroke="#1c1c1c" stroke-width="1.3" />
<line x1="57.60" y1="940.80" x2="63.20" y2="940.80" stroke="#1c1c1c" stroke-width="1.3" />
<line x1="57.60" y1="983.80" x2="63.20" y2="983.80" stroke="#1c1c1c" stroke-width="1.3" />
<line x1="60.40" y1="948.75" x2="60.40" y2="975.00" stroke="#1c1c1c" stroke-width="1.3" />
<line x1="57.60" y1="948.75" x2="63.20" y2="948.75" stroke="#1c1c1c" stroke-width="1.3" />
<line x1="57.60" y1="975.00" x2="63.20" y2="975.00" stroke="#1c1c1c" stroke-width="1.3" />
<line x1="244.20" y1="933.80" x2="244.20" y2="948.30" stroke="#1c1c1c" stroke-width="1.3" />
<line x1="241.40" y1="933.80" x2="247.00" y2="933.80" stroke="#1c1c1c" stroke-width="1.3" />
<line x1="241.40" y1="948.30" x2="247.00" y2="948.30" stroke="#1c1c1c" stroke-width="1.3" />
<line x1="402.30" y1="825.40" x2="402.30" y2="852.60" stroke="#1c1c1c" stroke-width="1.3" />
<line x1="399.50" y1="825.40" x2="405.10" y2="825.40" stroke="#1c1c1c" stroke-width="1.3" />
<line x1="399.50" y1="852.60" x2="405.10" y2="852.60" stroke="#1c1c1c" stroke-width="1.3" />
<line x1="417.30" y1="843.80" x2="417.30" y2="877.30" stroke="#1c1c1c" stroke-width="1.3" />
<line x1="414.50" y1="843.80" x2="420.10" y2="843.80" stroke="#1c1c1c" stroke-width="1.3" />
<line x1="414.50" y1="877.30" x2="420.10" y2="877.30" stroke="#1c1c1c" stroke-width="1.3" />
<line x1="427.00" y1="831.80" x2="427.00" y2="889.30" stroke="#1c1c1c" stroke-width="1.3" />
<line x1="424.20" y1="831.80" x2="429.80" y2="831.80" stroke="#1c1c1c" stroke-width="1.3" />
<line x1="424.20" y1="889.30" x2="429.80" y2="889.30" stroke="#1c1c1c" stroke-width="1.3" />
<line x1="470.40" y1="925.80" x2="470.40" y2="972.00" stroke="#1c1c1c" stroke-width="1.3" />
<line x1="467.60" y1="925.80" x2="473.20" y2="925.80" stroke="#1c1c1c" stroke-width="1.3" />
<line x1="467.60" y1="972.00" x2="473.20" y2="972.00" stroke="#1c1c1c" stroke-width="1.3" />
<line x1="244.20" y1="1033.80" x2="244.20" y2="1058.80" stroke="#1c1c1c" stroke-width="1.3" />
<line x1="241.40" y1="1033.80" x2="247.00" y2="1033.80" stroke="#1c1c1c" stroke-width="1.3" />
<line x1="241.40" y1="1058.80" x2="247.00" y2="1058.80" stroke="#1c1c1c" stroke-width="1.3" />
<line x1="402.30" y1="975.50" x2="402.30" y2="1029.30" stroke="#1c1c1c" stroke-width="1.3" />
<line x1="399.50" y1="975.50" x2="405.10" y2="975.50" stroke="#1c1c1c" stroke-width="1.3" />
<line x1="399.50" y1="1029.30" x2="405.10" y2="1029.30" stroke="#1c1c1c" stroke-width="1.3" />
<line x1="417.30" y1="939.60" x2="417.30" y2="985.00" stroke="#1c1c1c" stroke-width="1.3" />
<line x1="414.50" y1="939.60" x2="420.10" y2="939.60" stroke="#1c1c1c" stroke-width="1.3" />
<line x1="414.50" y1="985.00" x2="420.10" y2="985.00" stroke="#1c1c1c" stroke-width="1.3" />
<line x1="427.20" y1="928.80" x2="427.20" y2="978.60" stroke="#1c1c1c" stroke-width="1.3" />
<line x1="424.40" y1="928.80" x2="430.00" y2="928.80" stroke="#1c1c1c" stroke-width="1.3" />
<line x1="424.40" y1="978.60" x2="430.00" y2="978.60" stroke="#1c1c1c" stroke-width="1.3" />
<line x1="470.40" y1="928.80" x2="470.40" y2="969.60" stroke="#1c1c1c" stroke-width="1.3" />
<line x1="467.60" y1="928.80" x2="473.20" y2="928.80" stroke="#1c1c1c" stroke-width="1.3" />
<line x1="467.60" y1="969.60" x2="473.20" y2="969.60" stroke="#1c1c1c" stroke-width="1.3" />
<line x1="244.20" y1="948.50" x2="244.20" y2="959.80" stroke="#1c1c1c" stroke-width="1.3" />
<line x1="241.40" y1="948.50" x2="247.00" y2="948.50" stroke="#1c1c1c" stroke-width="1.3" />
<line x1="241.40" y1="959.80" x2="247.00" y2="959.80" stroke="#1c1c1c" stroke-width="1.3" />
<line x1="402.30" y1="973.50" x2="402.30" y2="999.50" stroke="#1c1c1c" stroke-width="1.3" />
<line x1="399.50" y1="973.50" x2="405.10" y2="973.50" stroke="#1c1c1c" stroke-width="1.3" />
<line x1="399.50" y1="999.50" x2="405.10" y2="999.50" stroke="#1c1c1c" stroke-width="1.3" />
<line x1="417.30" y1="1008.10" x2="417.30" y2="1029.30" stroke="#1c1c1c" stroke-width="1.3" />
<line x1="414.50" y1="1008.10" x2="420.10" y2="1008.10" stroke="#1c1c1c" stroke-width="1.3" />
<line x1="414.50" y1="1029.30" x2="420.10" y2="1029.30" stroke="#1c1c1c" stroke-width="1.3" />
<line x1="427.20" y1="956.00" x2="427.20" y2="987.30" stroke="#1c1c1c" stroke-width="1.3" />
<line x1="424.40" y1="956.00" x2="430.00" y2="956.00" stroke="#1c1c1c" stroke-width="1.3" />
<line x1="424.40" y1="987.30" x2="430.00" y2="987.30" stroke="#1c1c1c" stroke-width="1.3" />
<line x1="470.40" y1="933.40" x2="470.40" y2="1007.40" stroke="#1c1c1c" stroke-width="1.3" />
<line x1="467.60" y1="933.40" x2="473.20" y2="933.40" stroke="#1c1c1c" stroke-width="1.3" />
<line x1="467.60" y1="1007.40" x2="473.20" y2="1007.40" stroke="#1c1c1c" stroke-width="1.3" />
<polygon points="60.40,958.90 56.90,965.10 63.90,965.10" fill="#fff" stroke="#1c1c1c" stroke-width="1.2" stroke-linejoin="miter"/>
<polygon points="244.20,950.00 240.70,956.20 247.70,956.20" fill="#fff" stroke="#1c1c1c" stroke-width="1.2" stroke-linejoin="miter"/>
<polygon points="402.30,982.50 398.80,988.70 405.80,988.70" fill="#fff" stroke="#1c1c1c" stroke-width="1.2" stroke-linejoin="miter"/>
<polygon points="417.30,1014.70 413.80,1020.90 420.80,1020.90" fill="#fff" stroke="#1c1c1c" stroke-width="1.2" stroke-linejoin="miter"/>
<polygon points="427.20,969.70 423.70,975.90 430.70,975.90" fill="#fff" stroke="#1c1c1c" stroke-width="1.2" stroke-linejoin="miter"/>
<polygon points="470.40,964.80 466.90,971.00 473.90,971.00" fill="#fff" stroke="#1c1c1c" stroke-width="1.2" stroke-linejoin="miter"/>
<circle cx="244.20" cy="941.50" r="4.3" fill="#fff" stroke="#1c1c1c" stroke-width="1.3"/>
<circle cx="402.30" cy="839.20" r="4.3" fill="#fff" stroke="#1c1c1c" stroke-width="1.3"/>
<circle cx="417.30" cy="860.00" r="4.3" fill="#fff" stroke="#1c1c1c" stroke-width="1.3"/>
<circle cx="427.00" cy="860.00" r="4.3" fill="#fff" stroke="#1c1c1c" stroke-width="1.3"/>
<circle cx="470.40" cy="949.30" r="4.3" fill="#fff" stroke="#1c1c1c" stroke-width="1.3"/>
<circle cx="60.40" cy="962.00" r="5.1" fill="#1c1c1c"/>
<circle cx="244.20" cy="1045.40" r="5.1" fill="#1c1c1c"/>
<circle cx="402.30" cy="1002.30" r="5.1" fill="#1c1c1c"/>
<circle cx="417.30" cy="962.00" r="5.1" fill="#1c1c1c"/>
<circle cx="427.20" cy="953.80" r="5.1" fill="#1c1c1c"/>
<circle cx="470.40" cy="949.20" r="5.1" fill="#1c1c1c"/>
<polygon points="60.40,960.35 57.90,964.85 62.90,964.85" fill="#fff" stroke="#1c1c1c" stroke-width="1.0" stroke-linejoin="miter"/>
<path d="M239.20,906.90L239.20,903.60M239.20,906.90L242.34,905.88M239.20,906.90L241.14,909.57M239.20,906.90L237.26,909.57M239.20,906.90L236.06,905.88" stroke="#1c1c1c" stroke-width="2.0" stroke-linecap="round" fill="none"/>
<path d="M249.30,906.90L249.30,903.60M249.30,906.90L252.44,905.88M249.30,906.90L251.24,909.57M249.30,906.90L247.36,909.57M249.30,906.90L246.16,905.88" stroke="#1c1c1c" stroke-width="2.0" stroke-linecap="round" fill="none"/>
<g transform="translate(397.25,819.20) scale(0.9072499999999999,1)"><text x="0" y="0" font-size="15.75" text-anchor="middle" style="stroke-width:0.45px">§</text></g>
<path d="M418.60,816.20L418.60,813.10M418.60,816.20L421.55,815.24M418.60,816.20L420.42,818.71M418.60,816.20L416.78,818.71M418.60,816.20L415.65,815.24" stroke="#1c1c1c" stroke-width="1.9" stroke-linecap="round" fill="none"/>
<g transform="translate(436.25,825.20) scale(0.9072499999999999,1)"><text x="0" y="0" font-size="15.75" text-anchor="middle" style="stroke-width:0.45px">§§</text></g>
<line x1="73.60" y1="808.20" x2="121.90" y2="808.20" stroke="#1c1c1c" stroke-width="1.3" />
<circle cx="98.80" cy="808.20" r="4.3" fill="#fff" stroke="#1c1c1c" stroke-width="1.3"/>
<line x1="73.60" y1="823.60" x2="121.90" y2="823.60" stroke="#1c1c1c" stroke-width="1.3" />
<circle cx="98.80" cy="823.60" r="5.1" fill="#1c1c1c"/>
<line x1="73.60" y1="839.60" x2="121.90" y2="839.60" stroke="#1c1c1c" stroke-width="1.3" />
<polygon points="98.80,836.80 95.30,842.80 102.30,842.80" fill="#fff" stroke="#1c1c1c" stroke-width="1.2" stroke-linejoin="miter"/>
<text x="137.60" y="815.00" font-size="14.4" text-anchor="start" font-weight="normal" textLength="76.2" lengthAdjust="spacingAndGlyphs" >Normal CM</text>
<text x="137.60" y="830.00" font-size="14.4" text-anchor="start" font-weight="normal" textLength="69.4" lengthAdjust="spacingAndGlyphs" >Hurler CM</text>
<text x="137.60" y="846.10" font-size="14.4" text-anchor="start" font-weight="normal" textLength="46.6" lengthAdjust="spacingAndGlyphs" >No CM</text>
</svg>
</body></html>
